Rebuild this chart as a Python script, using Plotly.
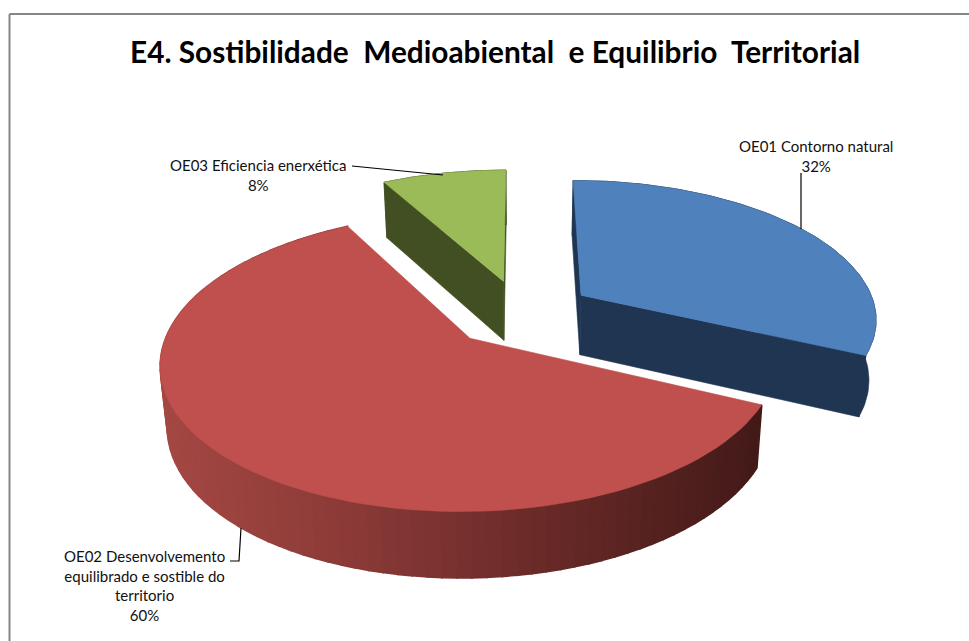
import numpy as np
import plotly.graph_objects as go

title = "E4. Sostibilidade  Medioabiental  e Equilibrio  Territorial"
categories = ["OE01 Contorno natural",
              "OE02 Desenvolvemento<br>equilibrado e sostible do<br>territorio",
              "OE03 Eficiencia enerxética"]
values = [32, 60, 8]
top_colors = ["#4F81BD", "#C0504D", "#9BBB59"]
side_colors = ["#1F3552", None, "#414F23"]
red_side_stops = [(0.0, (165, 72, 68)), (0.3, (140, 59, 56)), (0.6, (108, 44, 42)), (1.0, (66, 26, 24))]

W, H = 969, 641
CX, CY, R, RY, K, EXPL, DEPTH, SHRINK = 521, 313, 296, 137.7, 0.155, 0.245, 60, 0.98
label_pos = [(816, 156), (144, 585), (258, 175)]
leaders = [[(801, 173), (801, 229)],
           [(241, 528), (239, 561), (230, 561)],
           [(352, 166), (443, 175)]]


def project(theta, radius, mid, low=False):
    X = EXPL * np.sin(mid) + radius * np.sin(theta)
    Z = EXPL * np.cos(mid) + radius * np.cos(theta)
    s = 1 / (1 + K * Z)
    x = R * X * s
    y = -RY * Z * s
    if low:
        return CX + x * SHRINK, CY + y + DEPTH * np.sqrt(s)
    return CX + x, CY + y


def poly(points, color, width=0.6):
    xs = [p[0] for p in points] + [points[0][0]]
    ys = [p[1] for p in points] + [points[0][1]]
    return go.Scatter(x=xs, y=ys, mode="lines", fill="toself", fillcolor=color,
                      line=dict(color=color, width=width), hoverinfo="skip", showlegend=False)


def mix(t):
    for (a, ca), (b, cb) in zip(red_side_stops, red_side_stops[1:]):
        if a <= t <= b:
            f = (t - a) / (b - a)
            c = [int(u + (v - u) * f) for u, v in zip(ca, cb)]
            return f"rgb({c[0]},{c[1]},{c[2]})"
    return f"rgb{red_side_stops[-1][1]}"


fig = go.Figure()
edges = np.radians(np.cumsum([0] + values) * 3.6)
for i in [2, 0, 1]:
    a, b = edges[i], edges[i + 1]
    mid = (a + b) / 2
    arc = np.linspace(a, b, 90)
    apex_t, apex_b = project(0, 0, mid), project(0, 0, mid, True)
    if side_colors[i]:
        for e in (a, b):
            fig.add_trace(poly([apex_t, project(e, 1, mid), project(e, 1, mid, True), apex_b], side_colors[i]))
        fig.add_trace(poly([project(t, 1, mid) for t in arc] + [project(t, 1, mid, True) for t in arc[::-1]], side_colors[i]))
        # closes the notch between the top rim and the lower corner of the slice
        fig.add_trace(poly([project(t, 1, mid) for t in arc] + [project(b, 1, mid, True)], side_colors[i]))
    else:
        # gradient band along the rim, painted from the right end towards the left
        for t0, t1 in zip(arc[:-1], arc[1:]):
            pts = [project(t0, 1, mid), project(t1, 1, mid), project(t1, 1, mid, True), project(t0, 1, mid, True)]
            tx = (np.mean([p[0] for p in pts]) - 164) / (764 - 164)
            fig.add_trace(poly(pts, mix(float(np.clip(tx, 0, 1))), width=1.6))
    fig.add_trace(poly([apex_t] + [project(t, 1, mid) for t in arc], top_colors[i]))

for pts in leaders:
    fig.add_trace(go.Scatter(x=[p[0] for p in pts], y=[p[1] for p in pts], mode="lines",
                             line=dict(color="#000000", width=1.2), hoverinfo="skip", showlegend=False))

for cat, val, (x, y) in zip(categories, values, label_pos):
    fig.add_annotation(x=x, y=y, xref="x", yref="y", showarrow=False, align="center",
                       text=f"{cat}<br>{val}%",
                       font=dict(family="Lato", size=15, color="#111111"))

fig.add_annotation(x=495, y=51, xref="x", yref="y", showarrow=False, text=f"<b>{title}</b>",
                   font=dict(family="Lato", size=29.8, color="#000000"))

fig.add_shape(type="line", x0=9.5, x1=969, y0=14, y1=14, line=dict(color="#868686", width=2))
fig.add_shape(type="line", x0=9.5, x1=9.5, y0=14, y1=641, line=dict(color="#868686", width=2))

fig.update_layout(width=W, height=H, margin=dict(l=0, r=0, t=0, b=0), paper_bgcolor="white",
                  plot_bgcolor="white", showlegend=False,
                  xaxis=dict(range=[0, W], visible=False, fixedrange=True),
                  yaxis=dict(range=[H, 0], visible=False, fixedrange=True))
fig.write_html("out.html", config=dict(displayModeBar=False),
               post_script="document.body.style.margin='0';document.body.style.overflow='hidden';")
